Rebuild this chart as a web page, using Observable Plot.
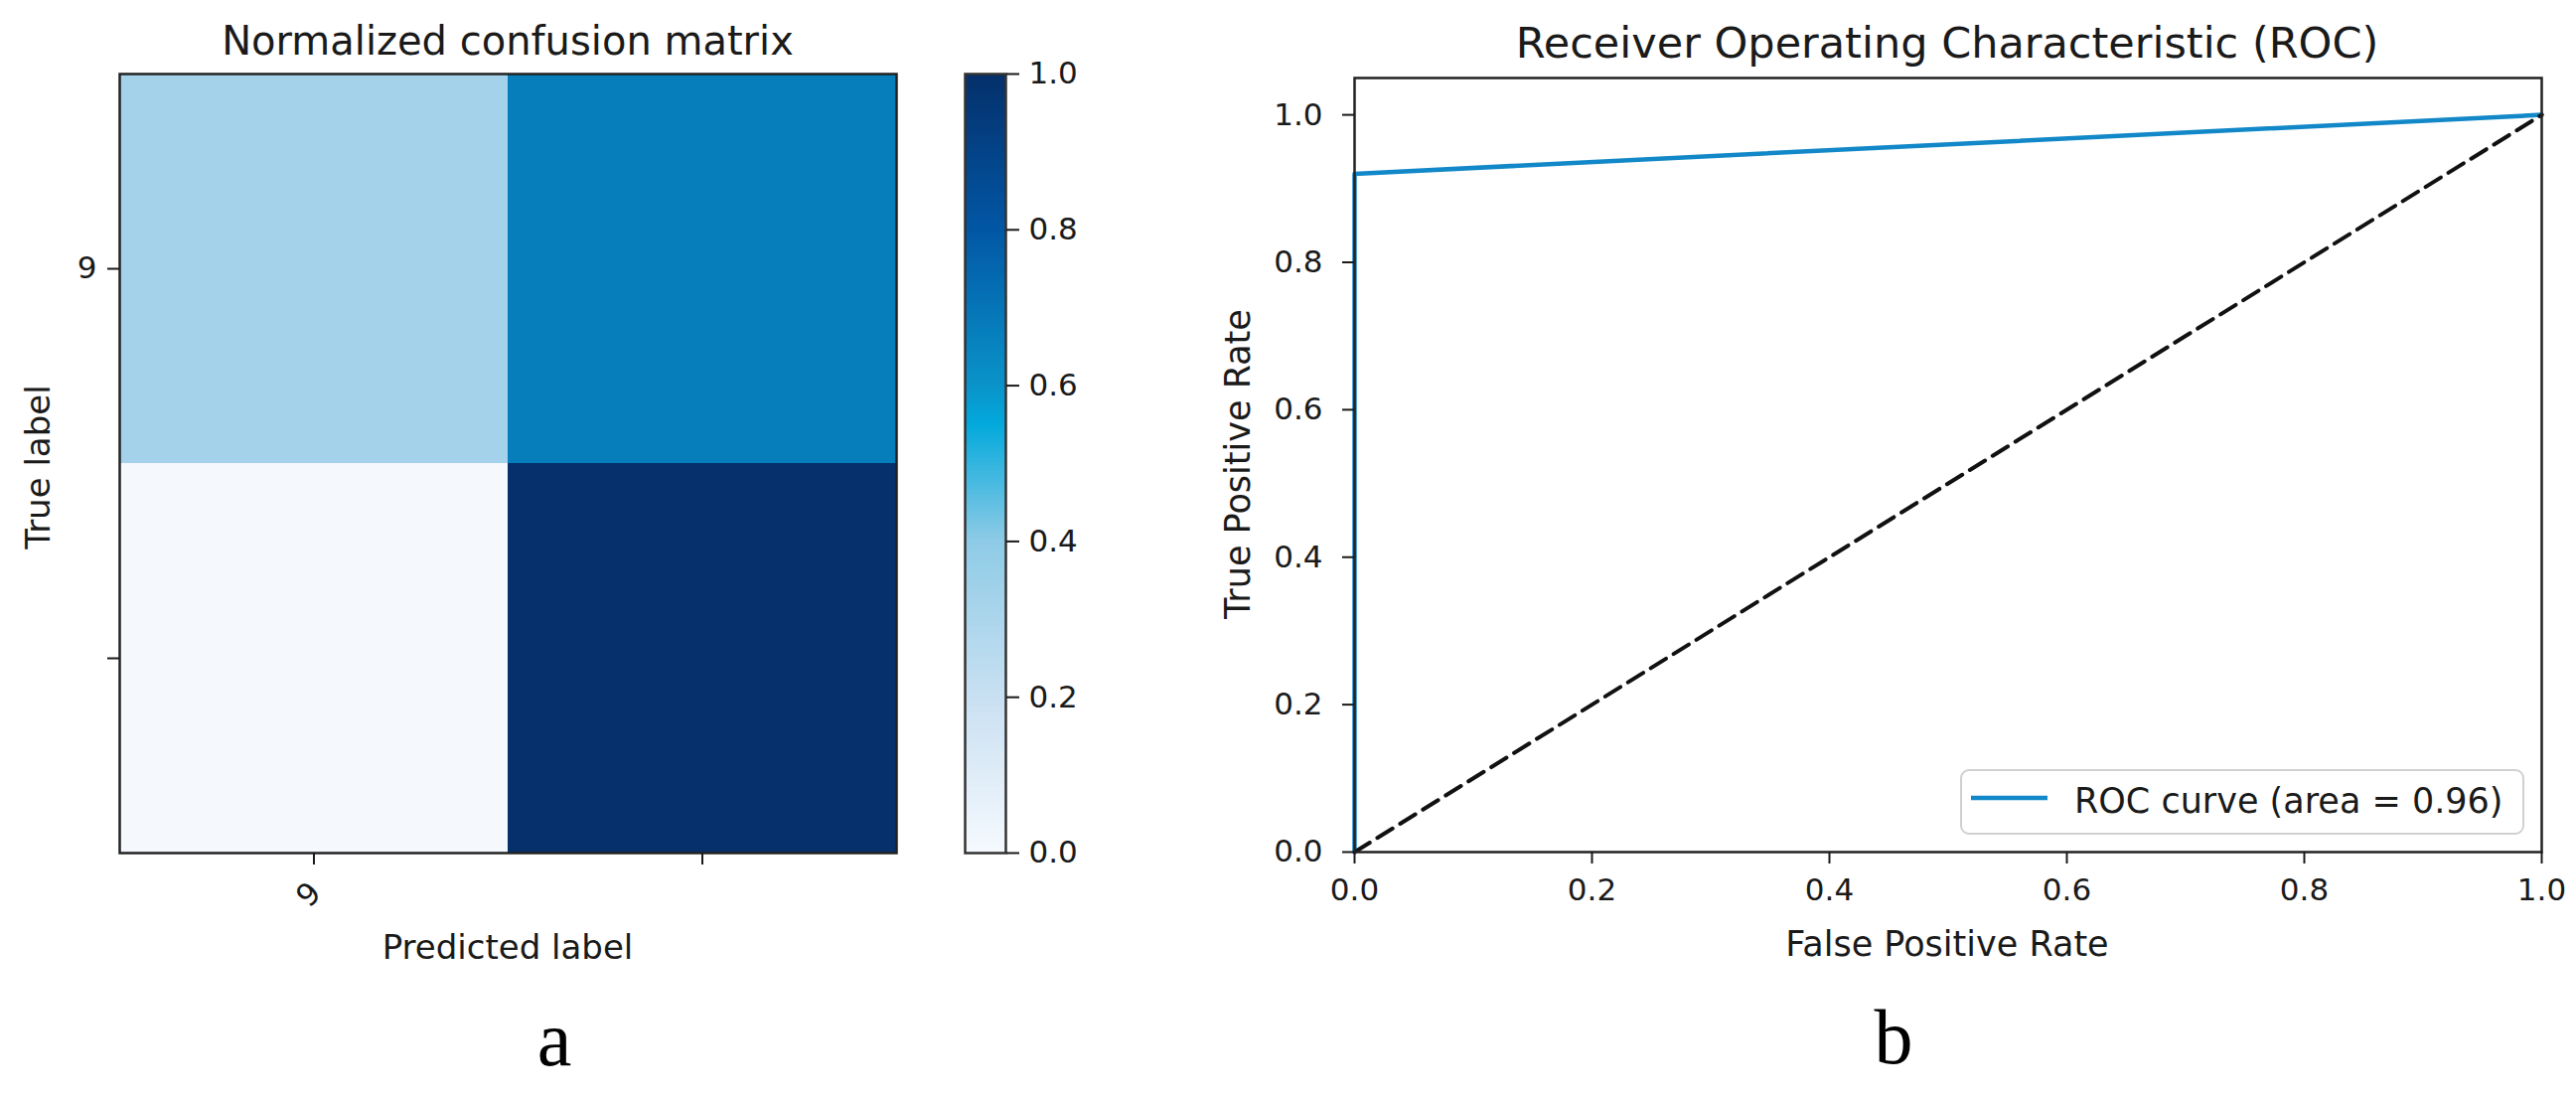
<!DOCTYPE html>
<html><head><meta charset="utf-8">
<script src="https://cdn.jsdelivr.net/npm/d3@7"></script>
<script src="https://cdn.jsdelivr.net/npm/@observablehq/plot@0.6"></script>
<style>
html,body{margin:0;padding:0;background:#fff;}
#fig{position:relative;width:2593px;height:1106px;overflow:hidden;background:#fff;font-family:"DejaVu Sans",sans-serif;}
#fig > svg{position:absolute;top:0;}
</style></head><body><div id="fig"></div>
<script>
// ---- data ----
const classNames = ["9", "other"];
const classTickLabels = ["9", ""];
const trueLabels = ["9", "9", "other", "other"];
const predLabels = ["9", "other", "9", "other"];
const normValues = [0.33, 0.67, 0.0, 1.0];
const colorbarTicks = [0, 0.2, 0.4, 0.6, 0.8, 1.0];
const colorStops = [0, 0.2, 0.4, 0.55, 0.6, 0.8, 1.0];
const colorRange = ["#f5f9fe", "#c9e0f2", "#8ecbe6", "#03a9dc", "#0a93c9", "#0257a5", "#05306b"];
const fpr = [0, 0, 1];
const tpr = [0, 0.92, 1];
const chanceX = [0, 1];
const chanceY = [0, 1];
const rocTicks = [0, 0.2, 0.4, 0.6, 0.8, 1.0];
const rocAuc = 0.96;

const ink = "#1a1a1a";
const font = "DejaVu Sans";
const tickFont = 31;
const fig = document.getElementById("fig");
const fmtClass = d => classTickLabels[classNames.indexOf(d)];
const colorOpts = {type: "linear", domain: colorStops, range: colorRange, interpolate: "rgb"};

// ---- (a) confusion matrix ----
const cells = trueLabels.map((t, i) => ({t, p: predLabels[i], v: normValues[i]}));
const plotA = Plot.plot({
  width: 940, height: 1000,
  marginLeft: 120, marginRight: 38, marginTop: 74, marginBottom: 142,
  style: {background: "transparent", fontFamily: font, color: ink},
  x: {type: "band", domain: classNames, padding: 0},
  y: {type: "band", domain: classNames, padding: 0},
  color: colorOpts,
  marks: [
    Plot.cell(cells, {x: "p", y: "t", fill: "v", inset: 0}),
    Plot.frame({stroke: "#222", strokeWidth: 2.5}),
    Plot.axisY({tickSize: 12, tickPadding: 11, tickFormat: fmtClass, fontSize: tickFont, strokeWidth: 2, label: null}),
    Plot.axisX({tickSize: 12, tickFormat: () => "", strokeWidth: 2, label: null}),
    Plot.text(classNames, {x: d => d, text: fmtClass, frameAnchor: "bottom", dx: -5, dy: 42, rotate: -45,
      fontSize: tickFont, textAnchor: "middle", lineAnchor: "middle", fill: ink})
  ]
});
plotA.style.left = "0px";
fig.appendChild(plotA);

// ---- colorbar ----
const step = 0.0025;
const barSteps = d3.range(0, 1, step);
const plotB = Plot.plot({
  width: 172, height: 1000,
  marginLeft: 31, marginRight: 100, marginTop: 74, marginBottom: 142,
  style: {background: "transparent", fontFamily: font, color: ink},
  x: {domain: [0, 1], axis: null},
  y: {domain: [0, 1]},
  color: colorOpts,
  marks: [
    Plot.rect(barSteps, {x1: () => 0, x2: () => 1, y1: d => d, y2: d => Math.min(1, d + step * 1.6), fill: d => d + step / 2}),
    Plot.frame({stroke: "#333", strokeWidth: 2.5}),
    Plot.axisY({anchor: "right", ticks: colorbarTicks, tickFormat: d3.format(".1f"), tickSize: 13, tickPadding: 10,
      fontSize: tickFont, strokeWidth: 2, label: null})
  ]
});
plotB.style.left = "940px";
fig.appendChild(plotB);

// ---- (b) ROC ----
const roc = fpr.map((x, i) => ({x, y: tpr[i]}));
const chance = chanceX.map((x, i) => ({x, y: chanceY[i]}));
const plotC = Plot.plot({
  width: 1481, height: 1000,
  marginLeft: 251, marginRight: 35, marginTop: 78, marginBottom: 143,
  style: {background: "transparent", fontFamily: font, color: ink},
  x: {domain: [0, 1]},
  y: {domain: [0, 1.05]},
  marks: [
    Plot.line(roc, {x: "x", y: "y", stroke: "#1288c8", strokeWidth: 4.5}),
    Plot.line(chance, {x: "x", y: "y", stroke: "#111", strokeWidth: 4, strokeDasharray: "18,9"}),
    Plot.frame({stroke: "#222", strokeWidth: 2.5}),
    Plot.axisX({ticks: rocTicks, tickFormat: d3.format(".1f"), tickSize: 12, tickPadding: 14, fontSize: tickFont, strokeWidth: 2, label: null}),
    Plot.axisY({ticks: rocTicks, tickFormat: d3.format(".1f"), tickSize: 12, tickPadding: 20, fontSize: tickFont, strokeWidth: 2, label: null})
  ]
});
plotC.style.left = "1112px";
fig.appendChild(plotC);

// ---- titles, axis labels, legend, panel letters ----
const ov = d3.create("svg").attr("width", 2593).attr("height", 1106)
  .style("left", "0px").style("pointer-events", "none")
  .attr("font-family", font).attr("fill", ink);
function label(txt, x, y, size, rot, fam) {
  const t = ov.append("text").attr("text-anchor", "middle").attr("font-size", size).text(txt);
  if (fam) t.attr("font-family", fam).attr("fill", "#000");
  if (rot) t.attr("transform", `translate(${x},${y}) rotate(${rot})`);
  else t.attr("x", x).attr("y", y);
  return t;
}
label("Normalized confusion matrix", 511, 55, 40);
label("Predicted label", 511, 965, 34);
label("True label", 50, 470, 34, -90);
label("Receiver Operating Characteristic (ROC)", 1960, 58, 43);
label("False Positive Rate", 1960, 962, 35);
label("True Positive Rate", 1258, 467, 35, -90);
label("a", 558, 1072, 78, 0, "'Liberation Serif', 'Times New Roman', serif");
label("b", 1906, 1070, 78, 0, "'Liberation Serif', 'Times New Roman', serif");

const lg = ov.append("g");
lg.append("rect").attr("x", 1974).attr("y", 775).attr("width", 566).attr("height", 64).attr("rx", 8)
  .attr("fill", "#fff").attr("fill-opacity", 0.85).attr("stroke", "#d0d0d0").attr("stroke-width", 2);
lg.append("line").attr("x1", 1984).attr("x2", 2061).attr("y1", 803).attr("y2", 803)
  .attr("stroke", "#1288c8").attr("stroke-width", 4.5);
lg.append("text").attr("x", 2088).attr("y", 818).attr("font-size", 35)
  .text(`ROC curve (area = ${rocAuc.toFixed(2)})`);
fig.appendChild(ov.node());
</script></body></html>
